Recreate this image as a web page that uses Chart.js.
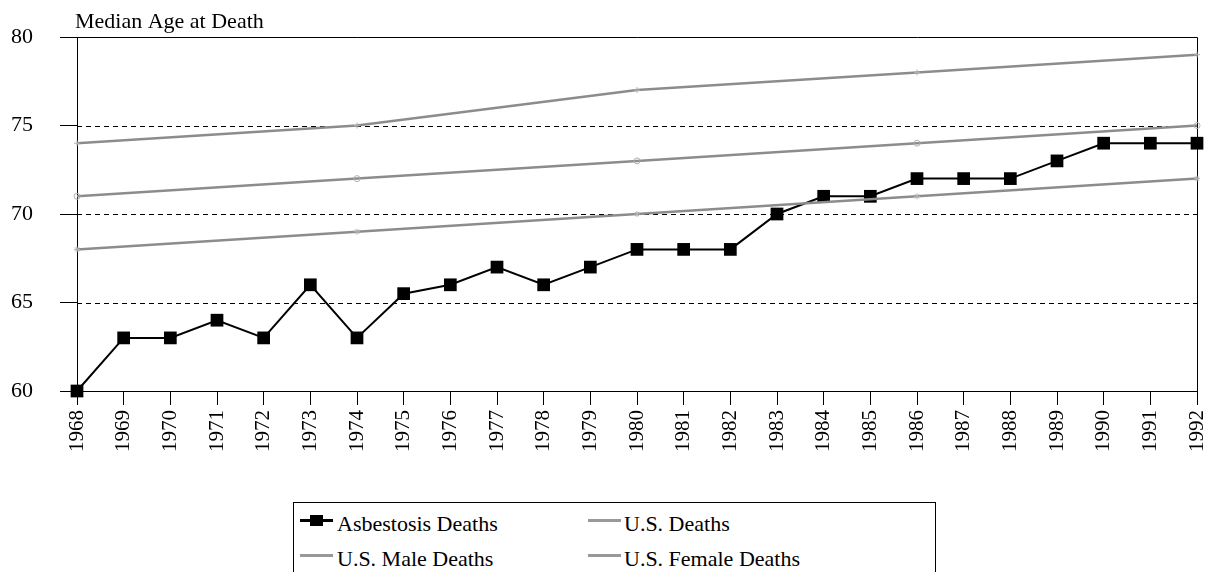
<!DOCTYPE html>
<html>
<head>
<meta charset="utf-8">
<script src="https://cdn.jsdelivr.net/npm/chart.js@4/dist/chart.umd.min.js"></script>
<style>
  body { margin: 0; width: 1207px; height: 572px; overflow: hidden; background: #fff; font-family: "Liberation Serif", serif; }
  #wrap { position: absolute; left: 0; top: 0; }
  #legend { position: absolute; left: 293px; top: 502px; width: 643px; height: 100px; border: 1px solid #000; box-sizing: border-box; }
  .item { position: absolute; font-size: 22px; line-height: 22px; color: #000; white-space: nowrap; }
  .mk { position: absolute; height: 3px; width: 33px; }
  .sq { position: absolute; width: 13px; height: 11px; background: #000; }
</style>
</head>
<body>
<div id="wrap"><canvas id="ageChart" width="1207" height="470"></canvas></div>
<div id="legend">
  <div class="mk" style="left:6px;top:16px;background:#000"></div><div class="sq" style="left:16px;top:12px"></div>
  <div class="item" style="left:43px;top:10px">Asbestosis Deaths</div>
  <div class="mk" style="left:294px;top:16px;background:#999"></div>
  <div class="item" style="left:330px;top:10px">U.S. Deaths</div>
  <div class="mk" style="left:6px;top:51px;background:#999"></div>
  <div class="item" style="left:43px;top:45px">U.S. Male Deaths</div>
  <div class="mk" style="left:294px;top:51px;background:#999"></div>
  <div class="item" style="left:330px;top:45px">U.S. Female Deaths</div>
</div>
<script>
// years on the x axis
let years = ["1968", "1969", "1970", "1971", "1972", "1973", "1974", "1975", "1976", "1977", "1978", "1979", "1980",
             "1981", "1982", "1983", "1984", "1985", "1986", "1987", "1988", "1989", "1990", "1991", "1992"];

// median age at death
let asbestosis = [60, 63, 63, 64, 63, 66, 63, 65.5, 66, 67, 66, 67, 68, 68, 68, 70, 71, 71, 72, 72, 72, 73, 74, 74, 74];
// U.S. figures only given every 6 years
let usDeaths = [71, null, null, null, null, null, 72, null, null, null, null, null, 73,
                null, null, null, null, null, 74, null, null, null, null, null, 75];
let usMale = [68, null, null, null, null, null, 69, null, null, null, null, null, 70,
              null, null, null, null, null, 71, null, null, null, null, null, 72];
let usFemale = [74, null, null, null, null, null, 75, null, null, null, null, null, 77,
                null, null, null, null, null, 78, null, null, null, null, null, 79];

let yTicks = [60, 65, 70, 75, 80];
let dashedAt = [65, 70, 75];

const FONT = "Liberation Serif";

// dashed reference lines, top/right frame and the axis caption
const framePlugin = {
    id: "frame",
    beforeDatasetsDraw(chart) {
        const ctx = chart.ctx;
        const a = chart.chartArea;
        const y = chart.scales.y;
        ctx.save();
        ctx.strokeStyle = "#000";
        ctx.lineWidth = 1;
        ctx.setLineDash([5, 4]);
        dashedAt.forEach(v => {
            let py = Math.round(y.getPixelForValue(v)) + 0.5;
            ctx.beginPath();
            ctx.moveTo(a.left, py);
            ctx.lineTo(a.right, py);
            ctx.stroke();
        });
        ctx.setLineDash([]);
        let top = Math.round(y.getPixelForValue(80)) + 0.5;
        let right = Math.round(a.right) + 0.5;
        ctx.beginPath();
        ctx.moveTo(a.left, top);
        ctx.lineTo(right, top);
        ctx.lineTo(right, a.bottom);
        ctx.stroke();
        ctx.restore();
    },
    afterDraw(chart) {
        const ctx = chart.ctx;
        ctx.save();
        ctx.fillStyle = "#000";
        ctx.font = "22px '" + FONT + "'";
        ctx.textBaseline = "alphabetic";
        ctx.fillText("Median Age at Death", 75, 28);
        ctx.restore();
    }
};

let ctx = document.getElementById("ageChart").getContext("2d");

new Chart(ctx, {
    type: "line",
    data: {
        labels: years,
        datasets: [
            {
                label: "U.S. Female Deaths",
                data: usFemale,
                borderColor: "#8c8c8c",
                borderWidth: 2.5,
                pointStyle: "cross",
                pointRadius: 3,
                pointBorderColor: "#b0b0b0",
                pointBorderWidth: 1,
                spanGaps: true,
                tension: 0
            },
            {
                label: "U.S. Deaths",
                data: usDeaths,
                borderColor: "#8c8c8c",
                borderWidth: 2.5,
                pointStyle: "circle",
                pointRadius: 3,
                pointBorderColor: "#b0b0b0",
                pointBackgroundColor: "rgba(0,0,0,0)",
                pointBorderWidth: 1,
                spanGaps: true,
                tension: 0
            },
            {
                label: "U.S. Male Deaths",
                data: usMale,
                borderColor: "#8c8c8c",
                borderWidth: 2.5,
                pointStyle: "star",
                pointRadius: 3,
                pointBorderColor: "#b0b0b0",
                pointBorderWidth: 1,
                spanGaps: true,
                tension: 0
            },
            {
                label: "Asbestosis Deaths",
                data: asbestosis,
                borderColor: "#000",
                borderWidth: 2,
                pointStyle: "rect",
                pointRadius: 9,
                pointBackgroundColor: "#000",
                pointBorderColor: "#000",
                pointBorderWidth: 0,
                clip: false,
                tension: 0
            }
        ]
    },
    options: {
        responsive: false,
        animation: false,
        layout: { padding: { top: 37, right: 10, left: 0, bottom: 0 } },
        plugins: {
            legend: { display: false },
            tooltip: { enabled: false }
        },
        scales: {
            x: {
                offset: false,
                grid: { drawOnChartArea: false, color: "#000", tickLength: 14, lineWidth: 1 },
                border: { color: "#000", width: 1 },
                ticks: {
                    autoSkip: false,
                    minRotation: 90,
                    maxRotation: 90,
                    padding: 5,
                    color: "#000",
                    font: { family: FONT, size: 21 }
                },
                afterFit(scale) {
                    scale.height = 79;
                    scale.paddingLeft = 0;
                    scale.paddingRight = 0;
                }
            },
            y: {
                min: 60,
                max: 80,
                grid: { drawOnChartArea: false, color: "#000", tickLength: 17, lineWidth: 1 },
                border: { color: "#000", width: 1 },
                afterBuildTicks(scale) { scale.ticks = yTicks.map(v => ({ value: v })); },
                ticks: {
                    padding: 27,
                    color: "#000",
                    font: { family: FONT, size: 22 }
                },
                afterFit(scale) {
                    scale.width = 77;
                    scale.paddingTop = 0;
                    scale.paddingBottom = 0;
                }
            }
        }
    },
    plugins: [framePlugin]
});
</script>
</body>
</html>
